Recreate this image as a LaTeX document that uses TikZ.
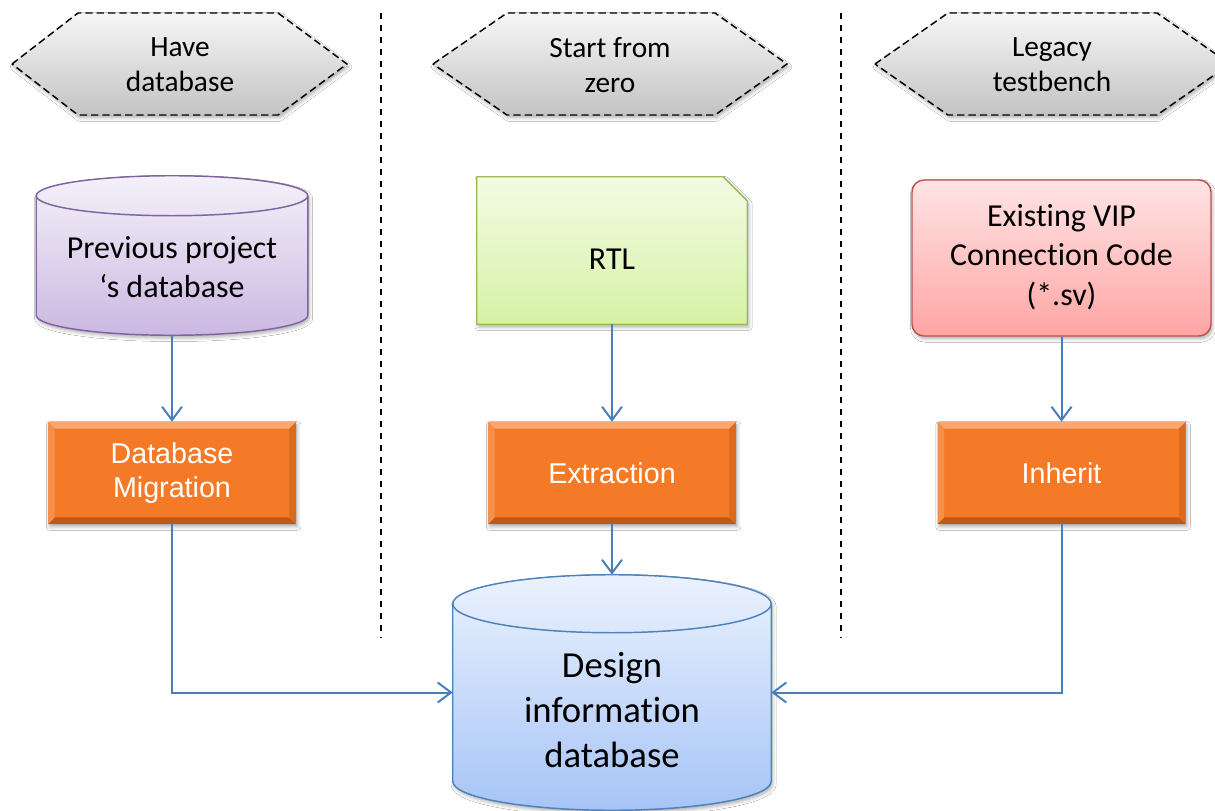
\documentclass[tikz,border=0pt]{standalone}
\usepackage{fontspec}
\setmainfont{Carlito}[Ligatures=NoCommon]
\newfontfamily\arialfont{Liberation Sans}
\usetikzlibrary{arrows.meta,calc,shadows.blur}

\definecolor{hexTop}{HTML}{F6F6F6}
\definecolor{hexBot}{HTML}{C3C3C3}
\definecolor{purTop}{HTML}{F4F1F9}
\definecolor{purBot}{HTML}{CBB8E2}
\definecolor{purLine}{HTML}{8064A2}
\definecolor{grnTop}{HTML}{F3FBE4}
\definecolor{grnBot}{HTML}{D6F2A6}
\definecolor{grnLine}{HTML}{9BBB59}
\definecolor{redTop}{HTML}{FFE4E4}
\definecolor{redBot}{HTML}{FFA5A5}
\definecolor{redLine}{HTML}{C0504D}
\definecolor{bluTop}{HTML}{EBF2FE}
\definecolor{bluBot}{HTML}{A6C4F6}
\definecolor{bluLine}{HTML}{4F81BD}
\definecolor{arrowBlue}{HTML}{4A7EBB}
\definecolor{orMain}{HTML}{F57A28}
\definecolor{orLight}{HTML}{F9A772}
\definecolor{orSide}{HTML}{F68F4C}
\definecolor{orDarkSide}{HTML}{DA6A1E}
\definecolor{orDark}{HTML}{BF5A16}

% cylinder drawn to fill the frame of node #1; #2 = y radius of the end ellipses
\newcommand\dbdrum[4]{%
  \path[#3, draw=#4, line width=1.1pt]
    let \p1=(#1.north west), \p2=(#1.south east), \n1={(\x2-\x1)/2} in
    ([yshift=-#2]#1.north west) -- ([yshift=#2]#1.south west)
    arc[start angle=180, end angle=360, x radius=\n1, y radius=#2]
    -- ([yshift=-#2]#1.north east)
    arc[start angle=0, end angle=180, x radius=\n1, y radius=#2] -- cycle;
  \draw[#4, line width=1.1pt]
    let \p1=(#1.north west), \p2=(#1.south east), \n1={(\x2-\x1)/2} in
    ([yshift=-#2]#1.north west)
    arc[start angle=180, end angle=360, x radius=\n1, y radius=#2];
}

\tikzset{
  x=0.75pt, y=0.75pt,
  softshadow/.style={blur shadow={shadow xshift=1.2pt, shadow yshift=-2.2pt,
      shadow blur radius=2.5pt, shadow opacity=30}},
  frame/.style={inner sep=0pt, minimum width=#1},
  hexbox/.style={draw=black, line width=1.1pt, dash pattern=on 5.5pt off 3pt,
      top color=hexTop, bottom color=hexBot, softshadow},
  hextext/.style={font=\fontsize{22}{26.5}\selectfont, align=center, inner sep=0pt},
  bodytext/.style={font=\fontsize{24}{29.5}\selectfont, align=center, inner sep=0pt},
  bigtext/.style={font=\fontsize{27.5}{33.5}\selectfont, align=center, inner sep=0pt},
  lane/.style={line width=1.1pt, dash pattern=on 4.5pt off 4.5pt},
  codebox/.style={draw=redLine, line width=1.1pt, rounded corners=9pt,
      top color=redTop, bottom color=redBot, softshadow,
      minimum width=224.25pt, minimum height=117pt, inner sep=0pt,
      font=\fontsize{24}{29.5}\selectfont, align=center},
  stepbox/.style={fill=orMain, softshadow, minimum width=186pt, minimum height=76.5pt,
      inner sep=0pt, text=white, align=center,
      font=\arialfont\fontsize{21.5}{25.5}\selectfont,
      path picture={
        \fill[orLight] (path picture bounding box.north west) -- (path picture bounding box.north east)
          -- ([shift={(-5pt,-5pt)}]path picture bounding box.north east)
          -- ([shift={(5pt,-5pt)}]path picture bounding box.north west) -- cycle;
        \fill[orDark] (path picture bounding box.south west) -- (path picture bounding box.south east)
          -- ([shift={(-5pt,5pt)}]path picture bounding box.south east)
          -- ([shift={(5pt,5pt)}]path picture bounding box.south west) -- cycle;
        \fill[orSide] (path picture bounding box.north west) -- (path picture bounding box.south west)
          -- ([shift={(5pt,5pt)}]path picture bounding box.south west)
          -- ([shift={(5pt,-5pt)}]path picture bounding box.north west) -- cycle;
        \fill[orDarkSide] (path picture bounding box.north east) -- (path picture bounding box.south east)
          -- ([shift={(-5pt,5pt)}]path picture bounding box.south east)
          -- ([shift={(-5pt,-5pt)}]path picture bounding box.north east) -- cycle;
      }},
  flow/.style={draw=arrowBlue, line width=1.5pt,
      -{Straight Barb[length=10pt, width=15pt, line width=1.5pt]}},
}

\begin{document}
\begin{tikzpicture}
  \clip (0,0) rectangle (1215,-811);
  \fill[white] (0,0) rectangle (1215,-811);

  % lane separators
  \draw[lane] (381,-13) -- (381,-638);
  \draw[lane] (841,-13) -- (841,-638);

  % scenario headers
  \path[hexbox] (12,-64) -- (78,-13) -- (278,-13) -- (347,-64) -- (278,-115) -- (78,-115) -- cycle;
  \node[hextext] (have) at (180,-65) {Have\\database};
  \path[hexbox] (433,-64) -- (507,-13) -- (715,-13) -- (787,-64) -- (715,-115) -- (507,-115) -- cycle;
  \node[hextext] (zero) at (610,-65) {Start from\\zero};
  \path[hexbox] (875,-64) -- (948,-13) -- (1157,-13) -- (1230,-64) -- (1157,-115) -- (948,-115) -- cycle;
  \node[hextext] (legacy) at (1052,-65) {Legacy\\testbench};

  % sources
  \node[frame=203.25pt, minimum height=119.25pt] (prevdb) at (172,-255.5) {};
  \dbdrum{prevdb}{15pt}{top color=purTop, bottom color=purBot, softshadow}{purLine}
  \node[bodytext] (prevdbtxt) at (172,-267) {Previous project\\‘s database};

  \node[frame=202.5pt, minimum height=110.25pt] (rtl) at (612,-250.5) {};
  \path[draw=grnLine, line width=1.1pt, top color=grnTop, bottom color=grnBot, softshadow]
    (rtl.north west) -- ([xshift=-18pt]rtl.north east) -- ([yshift=-18pt]rtl.north east)
    -- (rtl.south east) -- (rtl.south west) -- cycle;
  \node[bodytext] (rtltxt) at (612,-259) {RTL};

  \node[codebox] (vip) at (1061.5,-258) {\raisebox{-2pt}{\begin{tabular}{@{}c@{}}Existing VIP\\Connection Code\\(*.sv)\end{tabular}}};

  % processing steps
  \node[stepbox] (mig) at (172,-473) {Database\\Migration};
  \node[stepbox] (ext) at (612,-473) {Extraction};
  \node[stepbox] (inh) at (1061.5,-473) {Inherit};

  % target database
  \node[frame=238.5pt, minimum height=176.25pt] (ddb) at (612,-692.5) {};
  \dbdrum{ddb}{21.75pt}{top color=bluTop, bottom color=bluBot, softshadow}{bluLine}
  \node[bigtext] (ddbtxt) at (612,-710) {Design\\information\\database};

  % connectors
  \draw[flow] (prevdb.south) -- (mig.north);
  \draw[flow] (rtl.south) -- (ext.north);
  \draw[flow] (vip.south) -- (inh.north);
  \draw[flow] (ext.south) -- (ddb.north);
  \draw[flow] (mig.south) |- (ddb.west);
  \draw[flow] (inh.south) |- (ddb.east);
\end{tikzpicture}
\end{document}
